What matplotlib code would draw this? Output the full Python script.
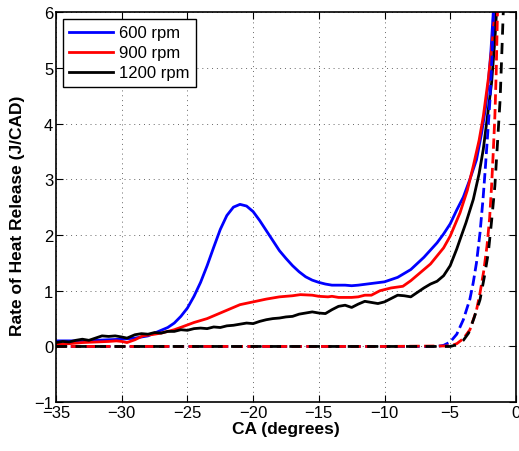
import matplotlib
matplotlib.use("Agg")
import matplotlib.pyplot as plt

plt.rcParams['font.family'] = ['Liberation Sans', 'DejaVu Sans']
plt.rcParams['axes.unicode_minus'] = True

# solid curves (fired)
x_600 = [-35, -34, -33, -32, -31, -30, -29, -28, -27.3, -26.5, -26, -25.5, -25, -24.5, -24,
         -23.5, -23, -22.5, -22, -21.5, -21, -20.5, -20, -19.5, -19, -18.5, -18, -17.5, -17,
         -16.5, -16, -15.5, -15, -14.5, -14, -13, -12.5, -12, -11, -10, -9, -8, -7, -6, -5.5,
         -5, -4.5, -4, -3.5, -3, -2.6, -2.3, -2.1, -1.9, -1.72, -1.6]
y_600 = [0.10, 0.10, 0.10, 0.11, 0.12, 0.13, 0.15, 0.19, 0.26, 0.34, 0.42, 0.54, 0.69, 0.90, 1.15,
         1.45, 1.78, 2.10, 2.35, 2.50, 2.55, 2.52, 2.42, 2.26, 2.08, 1.90, 1.72, 1.58, 1.45,
         1.34, 1.25, 1.19, 1.15, 1.12, 1.10, 1.10, 1.09, 1.10, 1.13, 1.16, 1.24, 1.38, 1.60, 1.86, 2.02,
         2.20, 2.45, 2.68, 3.00, 3.35, 3.84, 4.30, 4.73, 5.30, 6.00, 6.40]

x_900 = [-35, -34, -33, -32, -31, -30.4, -30, -29.6, -29, -28.4, -27.5, -27, -26, -25.3, -24.5,
         -23.5, -22.5, -21.5, -21, -20, -19, -18, -17, -16.4, -15.5, -15, -14.3, -14, -13.5,
         -12.5, -12, -11.5, -11, -10.35, -9.5, -8.6, -8, -7.3, -6.5, -5.5, -5, -4.25, -3.7,
         -3.24, -2.8, -2.48, -2.1, -1.85, -1.6, -1.5]
y_900 = [0.04, 0.05, 0.07, 0.08, 0.09, 0.10, 0.09, 0.07, 0.12, 0.19, 0.22, 0.24, 0.30, 0.36, 0.43,
         0.50, 0.60, 0.70, 0.75, 0.80, 0.85, 0.89, 0.91, 0.93, 0.92, 0.90, 0.89, 0.90, 0.88,
         0.88, 0.89, 0.92, 0.92, 1.00, 1.05, 1.08, 1.18, 1.32, 1.48, 1.77, 1.98, 2.40, 2.80,
         3.24, 3.70, 4.13, 4.80, 5.33, 6.00, 6.40]

x_1200 = [-35, -34.5, -34, -33.5, -33, -32.5, -32, -31.5, -31, -30.5, -30, -29.6, -29, -28.5,
          -28, -27.5, -27, -26.5, -26, -25.5, -25, -24.5, -24, -23.5, -23, -22.5, -22, -21.5,
          -21, -20.5, -20, -19.5, -19, -18.5, -18, -17.5, -17, -16.5, -16, -15.5, -15, -14.5,
          -14, -13.5, -13, -12.5, -12, -11.5, -11, -10.5, -10, -9.5, -9, -8.5, -8, -7.5, -7,
          -6.5, -6, -5.5, -5, -4.5, -4.25, -3.8, -3.24, -2.8, -2.48, -2.1, -1.85, -1.6, -1.45]
y_1200 = [0.07, 0.09, 0.08, 0.11, 0.13, 0.11, 0.15, 0.19, 0.18, 0.19, 0.17, 0.15, 0.21, 0.23,
          0.22, 0.25, 0.24, 0.27, 0.27, 0.30, 0.29, 0.32, 0.33, 0.32, 0.35, 0.34, 0.37, 0.38,
          0.40, 0.42, 0.41, 0.45, 0.48, 0.50, 0.51, 0.53, 0.54, 0.58, 0.60, 0.62, 0.60, 0.59,
          0.66, 0.72, 0.74, 0.70, 0.76, 0.81, 0.79, 0.77, 0.80, 0.86, 0.92, 0.91, 0.89, 0.97, 1.05,
          1.12, 1.17, 1.27, 1.45, 1.75, 1.92, 2.22, 2.64, 3.10, 3.54, 4.25, 4.73, 5.50, 6.10]

# dashed curves (motoring)
xm_600 = [-35, -30, -25, -20, -15, -10, -6, -5.5, -5, -4.5, -4, -3.5, -3.25, -3, -2.73,
          -2.5, -2.35, -2.15, -1.97, -1.8, -1.7, -1.6]
ym_600 = [0, 0, 0, 0, 0, 0, 0, 0.02, 0.08, 0.22, 0.48, 0.85, 1.14, 1.50, 2.04,
          2.65, 3.12, 3.80, 4.43, 5.30, 6.00, 6.50]
xm_900 = [-35, -30, -25, -20, -15, -10, -5, -4.5, -4, -3.5, -3, -2.73, -2.45, -2.2, -2,
          -1.85, -1.72, -1.6, -1.5, -1.4, -1.3]
ym_900 = [0, 0, 0, 0, 0, 0, 0.01, 0.05, 0.14, 0.30, 0.65, 0.96, 1.35, 1.80, 2.30,
          2.88, 3.50, 4.13, 4.90, 6.00, 6.60]
xm_1200 = [-35, -30, -25, -20, -15, -10, -5, -4.5, -4, -3.6, -3.2, -2.73, -2.4, -2.1, -1.85,
           -1.6, -1.4, -1.2, -1.08, -0.96, -0.9]
ym_1200 = [0, 0, 0, 0, 0, 0, 0, 0.03, 0.11, 0.24, 0.50, 0.84, 1.25, 1.68, 2.25,
           2.88, 3.65, 4.43, 5.20, 6.00, 6.40]

fig = plt.figure(figsize=(5.19, 4.52), dpi=100)
ax = fig.add_axes([0.108, 0.108, 0.886, 0.863])

ax.plot(x_600, y_600, color='blue', lw=2, label='600 rpm')
ax.plot(x_900, y_900, color='red', lw=2, label='900 rpm')
ax.plot(x_1200, y_1200, color='black', lw=2, label='1200 rpm')
ax.plot(xm_600, ym_600, color='blue', lw=2, ls='--')
ax.plot(xm_900, ym_900, color='red', lw=2, ls='--')
ax.plot(xm_1200, ym_1200, color='black', lw=2, ls='--', dashes=(4, 3))

ax.set_xlim(-35, 0)
ax.set_ylim(-1, 6)
ax.set_xticks(range(-35, 1, 5))
ax.set_yticks(range(-1, 7))
ax.grid(True, color='black', ls=(0, (1, 4)), lw=0.7, alpha=0.6)
ax.tick_params(direction='in', top=True, right=True, length=5, labelsize=12, pad=2)
for s in ax.spines.values():
    s.set_linewidth(1.2)

ax.set_xlabel('CA (degrees)', fontsize=12.5, fontweight='bold', labelpad=1)
ax.set_ylabel('Rate of Heat Release (J/CAD)', fontsize=12.5, fontweight='bold')
ax.yaxis.set_label_coords(-0.068, 0.48)

leg = ax.legend(loc='upper left', fontsize=12, fancybox=False, framealpha=1,
                edgecolor='black', handlelength=2.6, handletextpad=0.35,
                borderpad=0.4, labelspacing=0.3, borderaxespad=0.4)
leg.get_frame().set_linewidth(1.0)

fig.savefig('out.png', dpi=100)
